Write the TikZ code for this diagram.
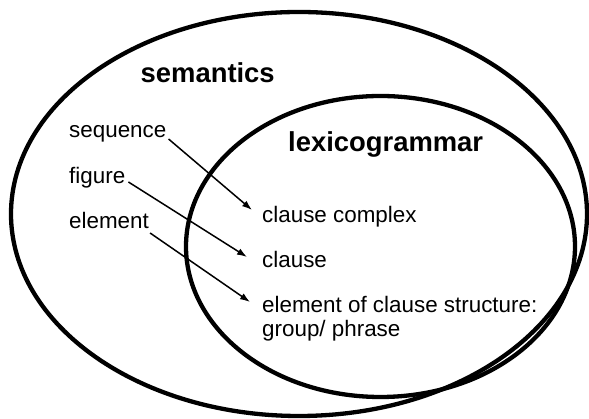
\documentclass[tikz,border=0pt]{standalone}
\usepackage{fontspec}
\setmainfont{Liberation Sans}
\usetikzlibrary{arrows.meta}
\tikzset{
  ring/.style={line width=4.3pt, draw=black},
  lbl/.style={inner sep=0pt, anchor=base west, font=\fontsize{22.4}{24.5}\selectfont},
  ttl/.style={inner sep=0pt, anchor=base west, font=\fontsize{27.4}{30}\selectfont\bfseries},
  arr/.style={line width=1.5pt, -{Latex[length=10pt,width=7pt]}}
}
\begin{document}
\begin{tikzpicture}[x=1pt,y=1pt]
\useasboundingbox (0,0) rectangle (589,419);
\fill[white] (0,0) rectangle (589,419);
% ellipses
\draw[ring] (299,205) ellipse [x radius=288, y radius=202];
\draw[ring] (380.5,172.5) ellipse [x radius=194.5, y radius=150.5];
% titles
\node[ttl] (sem) at (140.5,336) {semantics};
\node[ttl] (lex) at (288,267) {lexicogrammar};
% left labels
\node[lbl] (seq) at (69,281) {sequence};
\node[lbl] (fig) at (69,235) {figure};
\node[lbl] (ele) at (69,190) {element};
% right labels
\node[lbl] (cc) at (262,196) {clause complex};
\node[lbl] (cl) at (262,151) {clause};
\node[lbl] (ecs) at (262,106) {element of clause structure:};
\node[lbl] (gp) at (262,82) {group/ phrase};
% arrows
\draw[arr] ([shift={(2pt,-1pt)}]seq.base east) -- ([shift={(-10pt,13pt)}]cc.base west);
\draw[arr] ([shift={(3pt,2pt)}]fig.base east) -- ([shift={(-15pt,11pt)}]cl.base west);
\draw[arr] ([shift={(1pt,-4pt)}]ele.base east) -- ([shift={(-12pt,11pt)}]ecs.base west);
\end{tikzpicture}
\end{document}
